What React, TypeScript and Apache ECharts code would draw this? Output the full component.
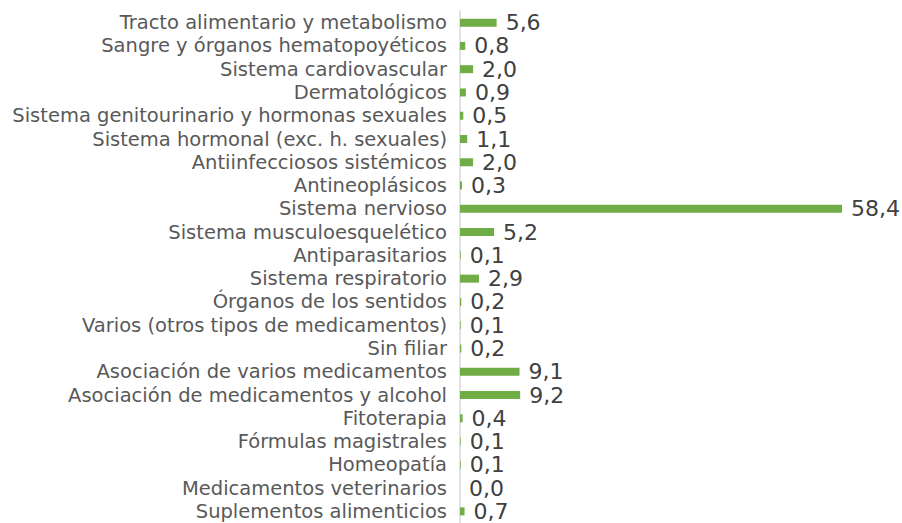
import React, { useEffect, useRef } from "react";
import * as echarts from "echarts";

const categories: string[] = [
  "Tracto alimentario y metabolismo",
  "Sangre y órganos hematopoyéticos",
  "Sistema cardiovascular",
  "Dermatológicos",
  "Sistema genitourinario y hormonas sexuales",
  "Sistema hormonal (exc. h. sexuales)",
  "Antiinfecciosos sistémicos",
  "Antineoplásicos",
  "Sistema nervioso",
  "Sistema musculoesquelético",
  "Antiparasitarios",
  "Sistema respiratorio",
  "Órganos de los sentidos",
  "Varios (otros tipos de medicamentos)",
  "Sin filiar",
  "Asociación de varios medicamentos",
  "Asociación de medicamentos y alcohol",
  "Fitoterapia",
  "Fórmulas magistrales",
  "Homeopatía",
  "Medicamentos veterinarios",
  "Suplementos alimenticios",
];

const values: number[] = [
  5.6, 0.8, 2.0, 0.9, 0.5, 1.1, 2.0, 0.3, 58.4, 5.2, 0.1, 2.9, 0.2, 0.1, 0.2,
  9.1, 9.2, 0.4, 0.1, 0.1, 0.0, 0.7,
];

export default function App() {
  const ref = useRef<HTMLDivElement>(null);
  useEffect(() => {
    if (!ref.current) return;
    const chart = echarts.init(ref.current, undefined, { renderer: "svg" });
    chart.setOption({
      animation: false,
      backgroundColor: "#ffffff",
      grid: { left: 460, top: 11, width: 392.5, height: 516 },
      xAxis: {
        type: "value",
        min: 0,
        max: 60,
        show: false,
      },
      yAxis: {
        type: "category",
        data: categories,
        inverse: true,
        axisLine: { show: true, lineStyle: { color: "#d9d9d9", width: 1.5 } },
        axisTick: { show: false },
        axisLabel: {
          interval: 0,
          margin: 13,
          fontFamily: "DejaVu Sans",
          fontSize: 19.5,
          color: "#595959",
        },
      },
      series: [
        {
          type: "bar",
          data: values,
          barWidth: 8,
          itemStyle: { color: "#70ad47" },
          label: {
            show: true,
            position: "right",
            distance: 9,
            fontFamily: "DejaVu Sans",
            fontSize: 22,
            color: "#404040",
            formatter: (p: any) => Number(p.value).toFixed(1).replace(".", ","),
          },
        },
      ],
    });
    return () => chart.dispose();
  }, []);
  return (
    <div
      ref={ref}
      style={{ position: "fixed", left: 0, top: 0, width: 902, height: 523 }}
    />
  );
}
